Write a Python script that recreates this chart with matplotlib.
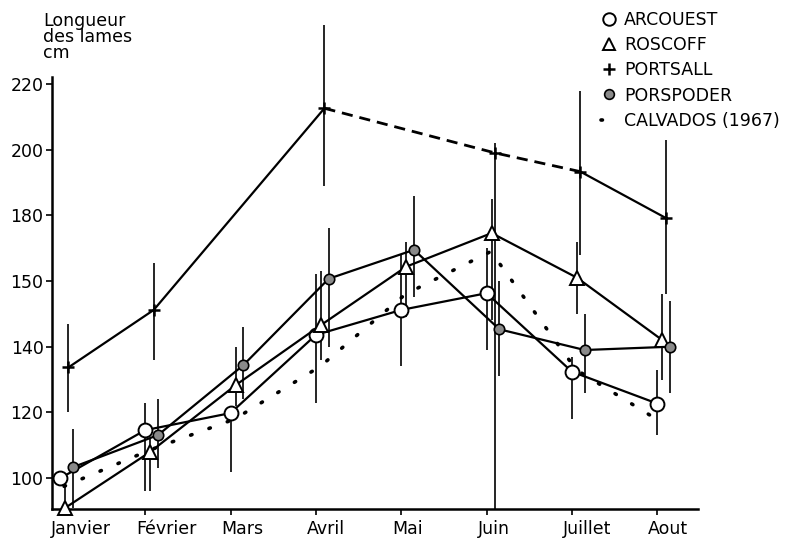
import numpy as np
import matplotlib
matplotlib.use("Agg")
import matplotlib.pyplot as plt
import matplotlib.transforms as mtransforms
from matplotlib.lines import Line2D

# months on the x axis
months = ["Janvier", "Février", "Mars", "Avril", "Mai", "Juin", "Juillet", "Aout"]
y_ticks = [100, 120, 140, 160, 180, 200, 220]
y_tick_labels = ["100", "120", "140", "150", "180", "200", "220"]

nan = np.nan
# mean blade length (cm) per month, with low / high ends of the bars
arcouest = [99.9, 114.6, 119.8, 143.6, 151.2, 156.3, 132.4, 122.7]
arcouest_lo = [nan, 96, 102, 123, 134, 139, 118, 113]
arcouest_hi = [nan, 123, 122, 162, 168, 170, 137, 133]

roscoff = [90.9, 108.0, 128.3, 146.6, 164.4, 174.6, 161.0, 142.0]
roscoff_lo = [90, 96, 122, 136, 149, 148, 150, 130]
roscoff_hi = [99, 112, 140, 163, 172, 185, 172, 156]

portsall = [133.7, 151.2, nan, 212.6, nan, 199.0, 193.3, 179.2]
portsall_lo = [120, 136, nan, 189, nan, 90.6, 168, 156]
portsall_hi = [147, 165.5, nan, 238, nan, 202, 218, 203]

porspoder = [103.3, 113.1, 134.4, 160.7, 169.5, 145.3, 139.0, 140.0]
porspoder_lo = [91, 103, 124, 140, 155, 131, 126, 126]
porspoder_hi = [115, 124, 146, 176, 186, 160, 150, 154]

calvados = [97.5, 108.5, 118.0, 134.0, 156.0, 169.0, 133.0, 117.0]

x = np.arange(len(months))

fig = plt.figure(figsize=(8.1, 5.47), dpi=100)
ax = fig.add_axes([0.064, 0.0695, 0.798, 0.789])
plt.rcParams['font.family'] = ['DejaVu Sans']
fs = 12.5


def bars(xs, lo, hi):
    for xi, l, h in zip(xs, lo, hi):
        if not (np.isnan(l) or np.isnan(h)):
            ax.vlines(xi, l, h, color="black", lw=1.2, zorder=1, clip_on=False)


k = "black"
# Arcouest
xa = x + 0.0
bars(xa, arcouest_lo, arcouest_hi)
ax.plot(xa, arcouest, color=k, lw=1.6, marker="o", ms=10, mfc="white", mec=k, mew=1.4, zorder=3,
        clip_on=False)

# Roscoff
xr = x + 0.06
bars(xr, roscoff_lo, roscoff_hi)
ax.plot(xr, roscoff, color=k, lw=1.6, marker="^", ms=10, mfc="white", mec=k, mew=1.4, zorder=3,
        clip_on=False)

# Portsall: solid, then dashed from Avril to Juillet
xp = x + 0.1
bars(xp, portsall_lo, portsall_hi)
pv = np.array(portsall)
ok = ~np.isnan(pv)
xp_ok, pv_ok = xp[ok], pv[ok]
ax.plot(xp_ok[:3], pv_ok[:3], color=k, lw=1.6, zorder=3)
ax.plot(xp_ok[2:5], pv_ok[2:5], color=k, lw=2.0, ls=(0, (4, 2.5)), zorder=3)
ax.plot(xp_ok[4:], pv_ok[4:], color=k, lw=1.6, zorder=3)
ax.plot(xp_ok, pv_ok, ls="none", marker="+", ms=9, mew=1.8, color=k, zorder=4)

# Porspoder
xo = x + 0.15
bars(xo, porspoder_lo, porspoder_hi)
ax.plot(xo, porspoder, color=k, lw=1.6, marker="o", ms=7.5, mfc="#8a8a8a", mec=k, mew=1.2, zorder=3)

# Calvados 1967
ax.plot(x + 0.05, calvados, color=k, lw=2.6, ls=(0, (0.4, 5)), dash_capstyle="round", zorder=2)

ax.set_xlim(-0.094, 7.48)
ax.set_ylim(90.6, 222)
ax.set_xticks(x)
ax.set_yticks(y_ticks)
ax.tick_params(axis="x", direction="out", length=4, width=1.2, pad=4)
ax.tick_params(axis="y", direction="out", length=4, width=1.2, pad=2)
ax.set_xticklabels(months, fontsize=fs, ha="left")
ax.set_yticklabels(y_tick_labels, fontsize=fs)
shift = mtransforms.ScaledTranslation(-9 / 100, 0, fig.dpi_scale_trans)
for lab in ax.xaxis.get_majorticklabels():
    lab.set_transform(lab.get_transform() + shift)
ax.spines["top"].set_visible(False)
ax.spines["right"].set_visible(False)
ax.spines["left"].set_linewidth(1.8)
ax.spines["bottom"].set_linewidth(1.8)

fig.text(0.053, 0.978, "Longueur\ndes lames\ncm", fontsize=fs, va="top", ha="left",
         linespacing=0.85)

handles = [
    Line2D([], [], ls="none", marker="o", ms=9, mfc="white", mec=k, mew=1.4),
    Line2D([], [], ls="none", marker="^", ms=9, mfc="white", mec=k, mew=1.4),
    Line2D([], [], ls="none", marker="+", ms=8, mew=1.8, color=k),
    Line2D([], [], ls="none", marker="o", ms=7, mfc="#8a8a8a", mec=k, mew=1.2),
    Line2D([], [], color=k, lw=2.6, ls=(0, (0.4, 4.5)), dash_capstyle="round"),
]
labels = ["ARCOUEST", "ROSCOFF", "PORTSALL", "PORSPODER", "CALVADOS (1967)"]
fig.legend(handles, labels, loc="upper left", bbox_to_anchor=(0.735, 0.99), frameon=False,
           fontsize=fs, handlelength=1.0, handletextpad=0.35, labelspacing=0.42,
           borderaxespad=0.0, borderpad=0.3)

fig.savefig("out.png", dpi=100)
